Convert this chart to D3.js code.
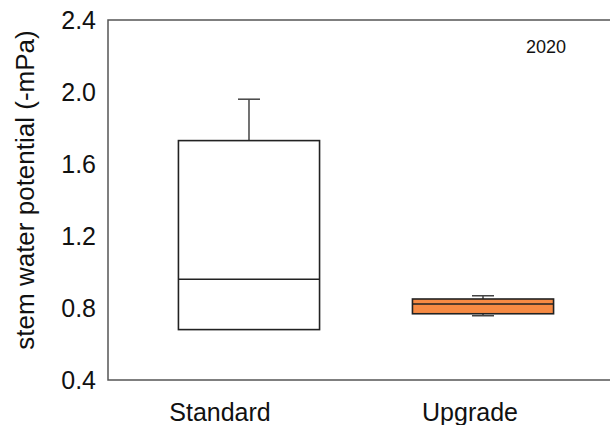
<!DOCTYPE html>
<html>
<head>
<meta charset="utf-8">
<script src="https://cdn.jsdelivr.net/npm/d3@7"></script>
<style>
  html, body { margin: 0; padding: 0; background: #fff; }
  svg { display: block; font-family: "Liberation Sans", Arial, sans-serif; }
</style>
</head>
<body>
<svg id="chart" width="610" height="425"></svg>
<script>
// Box-plot summary values per treatment
const categories = ["Standard", "Upgrade"];
const whiskerHigh = [1.96, 0.868];
const upperQuartile = [1.73, 0.85];
const medians = [0.96, 0.822];
const lowerQuartile = [0.68, 0.768];
const whiskerLow = [0.68, 0.757];
const boxFills = ["#ffffff", "#f68a43"];
const yTicks = [0.4, 0.8, 1.2, 1.6, 2.0, 2.4];
const yearLabel = "2020";
const yTitle = "stem water potential (-mPa)";

const svg = d3.select("#chart");
const plot = { left: 108, top: 20, right: 624, bottom: 380 };

const x = d3.scaleBand()
  .domain(categories)
  .range([plot.left, plot.right])
  .paddingInner(0.397)
  .paddingOuter(0.301);

// category labels sit a little left of each box centre
const xLabel = d3.scalePoint()
  .domain(categories)
  .range([220, 470]);

const y = d3.scaleLinear()
  .domain([0.4, 2.4])
  .range([plot.bottom, plot.top]);

const rows = categories.map((c, i) => ({
  cat: c, hi: whiskerHigh[i], q3: upperQuartile[i], med: medians[i],
  q1: lowerQuartile[i], lo: whiskerLow[i], fill: boxFills[i]
}));

// frame
svg.append("rect")
  .attr("x", plot.left).attr("y", plot.top)
  .attr("width", plot.right - plot.left).attr("height", plot.bottom - plot.top)
  .attr("fill", "none").attr("stroke", "#555").attr("stroke-width", 1.5);

// y axis labels
const yAxis = svg.append("g")
  .attr("transform", `translate(${plot.left},0)`)
  .call(d3.axisLeft(y).tickValues(yTicks).tickFormat(d3.format(".1f")).tickSize(0).tickPadding(12));
yAxis.select(".domain").remove();
yAxis.selectAll("text")
  .attr("font-size", 25).attr("fill", "#111")
  .attr("font-family", "'Liberation Sans', Arial, sans-serif");

// y axis title
svg.append("text")
  .attr("transform", `translate(34,190) rotate(-90)`)
  .attr("text-anchor", "middle")
  .attr("font-size", 26).attr("fill", "#111")
  .text(yTitle);

// x category labels
svg.selectAll(".cat-label")
  .data(categories)
  .join("text")
  .attr("class", "cat-label")
  .attr("x", d => xLabel(d))
  .attr("y", 421)
  .attr("text-anchor", "middle")
  .attr("font-size", 25).attr("fill", "#111")
  .text(d => d);

// year tag
svg.append("text")
  .attr("x", 546).attr("y", 53)
  .attr("text-anchor", "middle")
  .attr("font-size", 18).attr("fill", "#111")
  .text(yearLabel);

const boxes = svg.selectAll(".box")
  .data(rows)
  .join("g")
  .attr("class", "box");

const capW = 22;
const cx = d => x(d.cat) + x.bandwidth() / 2;

// whiskers
boxes.append("line")
  .attr("x1", cx).attr("x2", cx)
  .attr("y1", d => y(d.q3)).attr("y2", d => y(d.hi))
  .attr("stroke", "#444").attr("stroke-width", 1.5);
boxes.append("line")
  .attr("x1", d => cx(d) - capW / 2).attr("x2", d => cx(d) + capW / 2)
  .attr("y1", d => y(d.hi)).attr("y2", d => y(d.hi))
  .attr("stroke", "#444").attr("stroke-width", 1.5);
boxes.filter(d => d.lo < d.q1).append("line")
  .attr("x1", cx).attr("x2", cx)
  .attr("y1", d => y(d.q1)).attr("y2", d => y(d.lo))
  .attr("stroke", "#444").attr("stroke-width", 1.5);
boxes.filter(d => d.lo < d.q1).append("line")
  .attr("x1", d => cx(d) - capW / 2).attr("x2", d => cx(d) + capW / 2)
  .attr("y1", d => y(d.lo)).attr("y2", d => y(d.lo))
  .attr("stroke", "#444").attr("stroke-width", 1.5);

// interquartile boxes
boxes.append("rect")
  .attr("x", d => x(d.cat))
  .attr("width", x.bandwidth())
  .attr("y", d => y(d.q3))
  .attr("height", d => y(d.q1) - y(d.q3))
  .attr("fill", d => d.fill)
  .attr("stroke", "#222").attr("stroke-width", 1.6);

// medians
boxes.append("line")
  .attr("x1", d => x(d.cat)).attr("x2", d => x(d.cat) + x.bandwidth())
  .attr("y1", d => y(d.med)).attr("y2", d => y(d.med))
  .attr("stroke", "#222").attr("stroke-width", 1.6);
</script>
</body>
</html>
